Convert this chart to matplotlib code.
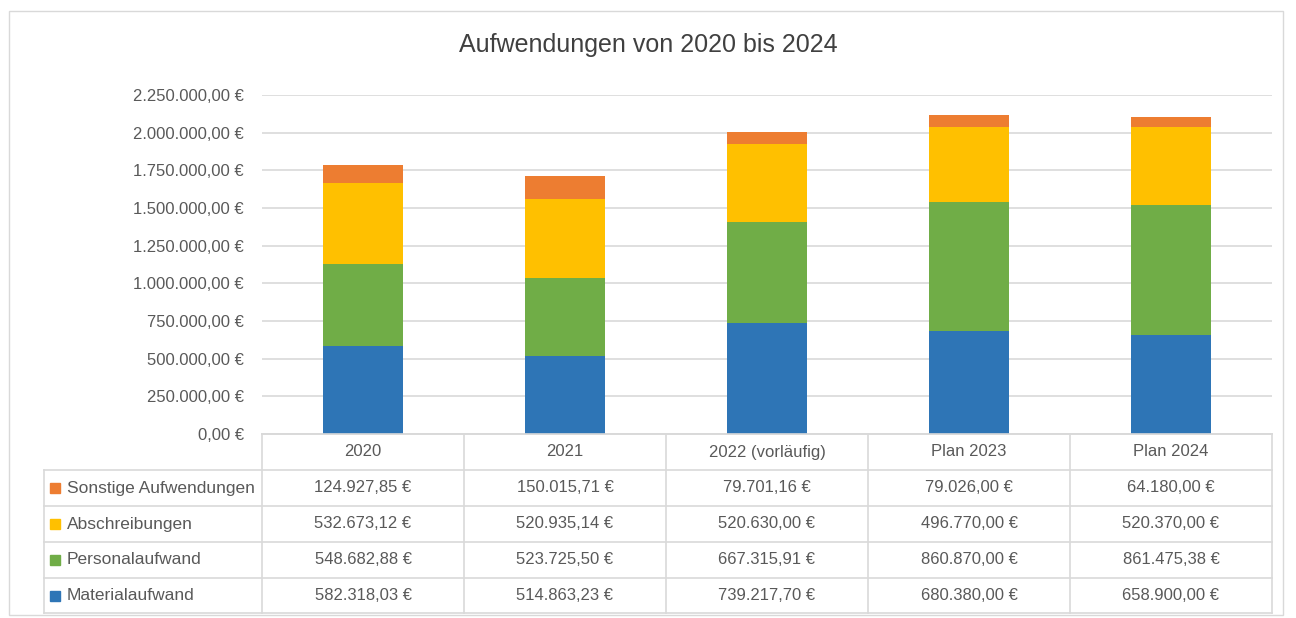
import matplotlib.pyplot as plt
import matplotlib.patches as mpatches
from matplotlib.lines import Line2D
from matplotlib.ticker import FuncFormatter
import numpy as np

plt.rcParams['font.family'] = ['Liberation Sans', 'DejaVu Sans']

years = ['2020', '2021', '2022 (vorläufig)', 'Plan 2023', 'Plan 2024']
material = [582318.03, 514863.23, 739217.70, 680380.00, 658900.00]
personal = [548682.88, 523725.50, 667315.91, 860870.00, 861475.38]
abschreib = [532673.12, 520935.14, 520630.00, 496770.00, 520370.00]
sonstige = [124927.85, 150015.71, 79701.16, 79026.00, 64180.00]

series = [('Materialaufwand', material, '#2E75B6'),
          ('Personalaufwand', personal, '#70AD47'),
          ('Abschreibungen', abschreib, '#FFC000'),
          ('Sonstige Aufwendungen', sonstige, '#ED7D31')]

txt = '#595959'
grid = '#D9D9D9'
W, H = 1296, 618


def euro(v):
    s = f'{v:,.2f}'
    s = s.replace(',', '#').replace('.', ',').replace('#', '.')
    return s + ' €'


def fx(px):
    return px / W


def fy(py):
    return 1 - py / H


fig = plt.figure(figsize=(12.96, 6.18), dpi=100)

# outer chart border
fig.patches.append(mpatches.Rectangle((fx(9), fy(615)), fx(1283 - 9), (615 - 11) / H,
                                      transform=fig.transFigure, fill=False,
                                      edgecolor='#D9D9D9', linewidth=1))

ax = fig.add_axes([fx(262), fy(434), fx(1272 - 262), (434 - 95) / H])
x = np.arange(len(years))
bottom = np.zeros(len(years))
for name, vals, col in series:
    ax.bar(x, vals, 0.4, bottom=bottom, color=col, zorder=3)
    bottom += np.array(vals)

ax.set_xlim(-0.5, len(years) - 0.5)
ax.set_ylim(0, 2250000)
ax.set_yticks(np.arange(0, 2250001, 250000))
ax.yaxis.set_major_formatter(FuncFormatter(lambda v, p: euro(v)))
ax.tick_params(axis='y', length=0, pad=13, labelsize=12, labelcolor=txt)
ax.set_xticks([])
ax.grid(axis='y', color=grid, linewidth=1.2, zorder=0)
for s in ['top', 'right', 'left']:
    ax.spines[s].set_visible(False)
ax.spines['bottom'].set_color(grid)
ax.spines['bottom'].set_linewidth(1.2)

fig.text(0.5, fy(45), 'Aufwendungen von 2020 bis 2024', ha='center', va='center',
         fontsize=18, color='#404040')

# data table below the chart
col_x = [262 + i * 202 for i in range(len(years) + 1)]
row_y = [434, 470, 506, 542, 578, 613]
lk = dict(transform=fig.transFigure, color=grid, linewidth=1.2)
for i, yy in enumerate(row_y):
    x0 = 262 if i == 0 else 44
    fig.add_artist(Line2D([fx(x0), fx(1272)], [fy(yy), fy(yy)], **lk))
for cx in col_x:
    fig.add_artist(Line2D([fx(cx), fx(cx)], [fy(434), fy(613)], **lk))
fig.add_artist(Line2D([fx(44), fx(44)], [fy(470), fy(613)], **lk))

for j, yr in enumerate(years):
    fig.text(fx(col_x[j] + 101), fy(452), yr, ha='center', va='center',
             fontsize=12, color=txt)

for r, (name, vals, col) in enumerate(reversed(series)):
    cy = (row_y[r + 1] + row_y[r + 2]) / 2
    fig.patches.append(mpatches.Rectangle((fx(50), fy(cy + 5)), fx(10), 10 / H,
                                          transform=fig.transFigure, color=col))
    fig.text(fx(67), fy(cy), name, ha='left', va='center', fontsize=12.5, color=txt)
    for j, v in enumerate(vals):
        fig.text(fx(col_x[j] + 101), fy(cy), euro(v), ha='center', va='center',
                 fontsize=12, color=txt)

plt.savefig('out.png', dpi=100)
